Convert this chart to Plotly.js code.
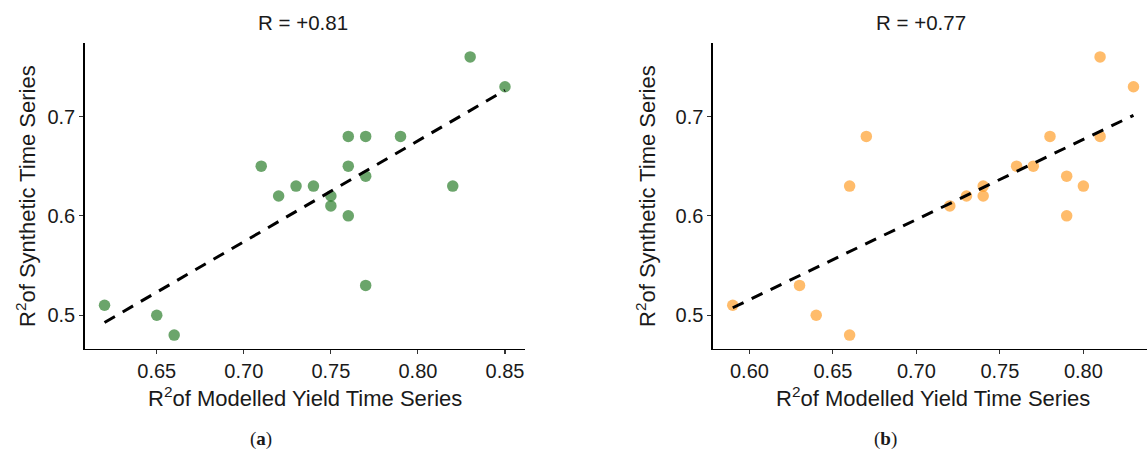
<!DOCTYPE html>
<html>
<head>
<meta charset="utf-8">
<script src="https://cdn.plot.ly/plotly-3.0.1.min.js"></script>
<style>html,body{margin:0;padding:0;background:#fff}#chart{width:1147px;height:456px}</style>
</head>
<body>
<div id="chart"></div>
<script>
// Panel (a)
const modelledA  = [0.62,0.65,0.66,0.71,0.72,0.73,0.74,0.75,0.75,0.76,0.76,0.76,0.77,0.77,0.77,0.79,0.82,0.83,0.85];
const syntheticA = [0.51,0.50,0.48,0.65,0.62,0.63,0.63,0.62,0.61,0.68,0.65,0.60,0.68,0.64,0.53,0.68,0.63,0.76,0.73];
// Panel (b)
const modelledB  = [0.59,0.63,0.64,0.66,0.66,0.67,0.72,0.73,0.74,0.74,0.76,0.77,0.78,0.79,0.79,0.80,0.81,0.81,0.83];
const syntheticB = [0.51,0.53,0.50,0.63,0.48,0.68,0.61,0.62,0.63,0.62,0.65,0.65,0.68,0.64,0.60,0.63,0.76,0.68,0.73];
const titles = ["R = +0.81", "R = +0.77"];
const captions = ["a", "b"];
const xAxisTitle = "R<sup>2</sup>of Modelled Yield Time Series";
const yAxisTitle = "R<sup>2</sup>of Synthetic Time Series";
const xTicksA = [0.65,0.70,0.75,0.80,0.85];
const xTicksB = [0.60,0.65,0.70,0.75,0.80];
const yTicks = [0.5,0.6,0.7];

function fit(x, y) {
  const n = x.length;
  const mx = x.reduce((a,b)=>a+b,0)/n, my = y.reduce((a,b)=>a+b,0)/n;
  let sxy=0, sxx=0;
  for (let i=0;i<n;i++){ sxy+=(x[i]-mx)*(y[i]-my); sxx+=(x[i]-mx)**2; }
  const b = sxy/sxx, a = my - b*mx;
  const x0 = Math.min(...x), x1 = Math.max(...x);
  return {x:[x0,x1], y:[a+b*x0, a+b*x1]};
}
const fA = fit(modelledA, syntheticA), fB = fit(modelledB, syntheticB);

const font = "Liberation Sans, Arial, sans-serif";
const textColor = '#1a1a1a';
const traces = [
  {x: modelledA, y: syntheticA, type:'scatter', mode:'markers', xaxis:'x', yaxis:'y',
   marker:{size:11.5, color:'rgba(0,100,0,0.58)', line:{width:0}}, showlegend:false},
  {x: fA.x, y: fA.y, type:'scatter', mode:'lines', xaxis:'x', yaxis:'y',
   line:{color:'#000', width:3, dash:'12px,9px'}, showlegend:false},
  {x: modelledB, y: syntheticB, type:'scatter', mode:'markers', xaxis:'x2', yaxis:'y2',
   marker:{size:11.5, color:'rgba(255,140,0,0.58)', line:{width:0}}, showlegend:false},
  {x: fB.x, y: fB.y, type:'scatter', mode:'lines', xaxis:'x2', yaxis:'y2',
   line:{color:'#000', width:3, dash:'12px,9px'}, showlegend:false}
];

const axBase = {
  showline:true, linecolor:'#000', linewidth:1.3, mirror:false,
  showgrid:false, zeroline:false, ticks:'outside', ticklen:4, tickwidth:1.1, tickcolor:'#333',
  tickfont:{family:font, size:20, color:textColor}, automargin:false
};

function ann(text, x, y, size, angle, fam) {
  return {text:text, xref:'paper', yref:'paper', x:x/1147, y:1-y/456, xanchor:'center', yanchor:'middle',
    showarrow:false, textangle:angle||0, font:{family:fam||font, size:size, color:textColor}};
}
const serif = 'Liberation Serif, DejaVu Serif, serif';

const layout = {
  width:1147, height:456, margin:{l:0,r:0,t:0,b:0},
  paper_bgcolor:'#fff', plot_bgcolor:'#fff', showlegend:false,
  xaxis: Object.assign({}, axBase, {domain:[84.5/1147, 525/1147], range:[0.6085,0.8615],
    tickvals:xTicksA, ticktext:xTicksA.map(v=>v.toFixed(2)), anchor:'y'}),
  yaxis: Object.assign({}, axBase, {domain:[1-349/456, 1-43/456], range:[0.466,0.774],
    tickvals:yTicks, ticktext:yTicks.map(v=>v.toFixed(1)), anchor:'x'}),
  xaxis2: Object.assign({}, axBase, {domain:[712.7/1147, 1], range:[0.578,0.8381],
    tickvals:xTicksB, ticktext:xTicksB.map(v=>v.toFixed(2)), anchor:'y2'}),
  yaxis2: Object.assign({}, axBase, {domain:[1-349/456, 1-43/456], range:[0.466,0.774],
    tickvals:yTicks, ticktext:yTicks.map(v=>v.toFixed(1)), anchor:'x2'}),
  annotations: [
    ann(titles[0], 303, 23, 20.5),
    ann(titles[1], 921, 23, 20.5),
    ann(xAxisTitle, 305, 397, 22),
    ann(xAxisTitle, 933, 397, 22),
    ann(yAxisTitle, 26, 196, 22, -90),
    ann(yAxisTitle, 646, 196, 22, -90),
    ann('(<b>'+captions[0]+'</b>)', 261, 439, 19, 0, serif),
    ann('(<b>'+captions[1]+'</b>)', 885, 439, 19, 0, serif)
  ]
};
Plotly.newPlot('chart', traces, layout, {displayModeBar:false, staticPlot:true});
</script>
</body>
</html>
